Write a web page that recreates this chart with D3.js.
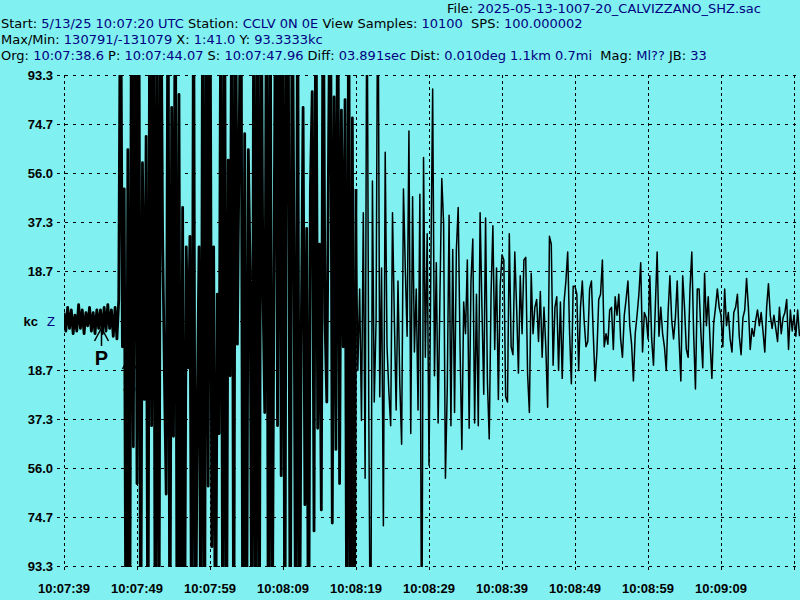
<!DOCTYPE html>
<html><head><meta charset="utf-8">
<script src="https://cdn.jsdelivr.net/npm/d3@7"></script>
<style>
html,body{margin:0;padding:0;background:#80f0f0;}
svg{display:block;}
text{font-family:"DejaVu Sans",sans-serif;font-size:13px;white-space:pre;}
text.ax{font-family:"Liberation Sans",Arial,sans-serif;font-weight:bold;font-size:13px;}
</style></head><body>
<svg id="chart" width="800" height="600"></svg>
<script>
// ---------- data ----------
const headerFile  = [["File: ","k"],["2025-05-13-1007-20_CALVIZZANO_SHZ.sac","n"]];
const headerStart = [["Start: ","k"],["5/13/25 10:07:20 UTC","n"],[" Station: ","k"],["CCLV 0N 0E","n"],[" View Samples: ","k"],["10100","n"],["  SPS: ","k"],["100.000002","n"]];
const headerMax   = [["Max/Min: ","k"],["130791/-131079","n"],[" X: ","k"],["1:41.0","n"],[" Y: ","k"],["93.3333kc","n"]];
const headerOrg   = [["Org: ","k"],["10:07:38.6","n"],[" P: ","k"],["10:07:44.07","n"],[" S: ","k"],["10:07:47.96","n"],[" Diff: ","k"],["03.891sec","n"],[" Dist: ","k"],["0.010deg 1.1km 0.7mi","n"],["  Mag: ","k"],["Ml??","n"],[" JB: ","k"],["33","n"]];

const xTickSeconds = [0,10,20,30,40,50,60,70,80,90,100];
const xTickLabels  = ["10:07:39","10:07:49","10:07:59","10:08:09","10:08:19","10:08:29","10:08:39","10:08:49","10:08:59","10:09:09"];
const yTickValues  = [93.333,74.667,56,37.333,18.667,0,-18.667,-37.333,-56,-74.667,-93.333];
const yTickLabels  = ["93.3","74.7","56.0","37.3","18.7","kc","18.7","37.3","56.0","74.7","93.3"];
const yFullScale   = 93.333;           // kc
const viewSeconds  = 100.82;           // visible window

const phaseNames   = ["P","S"];
const phaseSeconds = [5.07, 8.96];     // after 10:07:39

const sampleStep = 0.25;               // seconds between values
const strongUntil = 40;                // seconds: end of the clipped, strong part
const traceKc = [
  3,-4,5,-3,4,-5,2,-4,6,-3,4,-5,3,-2,5,-4,3,-5,4,-3,
  4,-5,5,-4,6,-3,4,-6,5,-7,8,150,-10,50,-150,65,-150,150,-48,150,
  -62,150,-150,60,-30,70,-150,150,-40,150,-150,150,-150,150,35,-20,-66,150,-150,81,
  -44,150,-150,86,-150,43,-150,28,-18,32,-150,150,-150,-34,28,-150,150,-150,150,-63,
  150,-86,28,-150,10,-43,150,-150,150,-150,61,-21,150,-150,150,-9,70,150,-150,71,
  -150,65,18,-150,150,-150,150,-150,150,12,-35,150,-150,150,-150,12,150,-40,150,-59,
  150,-150,150,92,-150,150,32,-150,150,-150,-5,81,-70,35,-150,50,87,-80,150,-41,
  29,-72,150,1,-31,69,150,-77,85,-49,150,-62,80,-10,84,-150,150,-150,77,-150,
  50,-19,12,-38,41,-60,150,-34,-150,53,-31,0,150,-29,20,-78,64,-10,-27,-40,
  41,1,-34,15,-24,-47,50,20,-6,72,-43,47,-12,12,-34,48,-150,62,-14,33,
  -55,20,88,-21,22,-39,10,54,37,-60,-26,40,-40,27,-35,27,43,-10,-49,7,
  -5,23,-41,15,31,-39,10,-40,41,5,-28,39,-23,-45,10,36,-11,20,-30,13,
  25,23,-29,-31,33,-10,-13,26,5,-20,17,-5,23,24,-20,-35,18,-5,5,8,
  -8,11,-14,5,-10,-33,32,29,-17,5,9,-19,7,-22,7,15,26,-4,-24,13,
  13,10,-19,5,15,0,-10,-8,12,15,-5,-23,-12,8,10,23,-10,-5,-9,4,
  5,-11,9,2,10,-7,-14,2,8,15,-2,-9,-23,-5,2,10,22,-12,3,1,
  -7,17,-7,-17,5,26,-6,5,-5,-10,-19,3,17,0,-7,1,15,-7,-23,17,
  5,-11,-14,12,26,-5,-26,12,12,-5,-18,18,-2,9,-8,-22,-1,5,12,5,
  2,-10,12,-2,3,-7,-12,3,5,10,-6,-13,1,4,16,5,-11,-3,-6,0,
  4,-2,3,-4,-12,5,14,2,-3,2,-3,-8,5,-5,1,3,8,-11,4,-4,
  2,-6,4,-6
];

// ---------- drawing ----------
const W = 800, H = 600;
const plot = {left:64, right:800, top:75, bottom:566};
const colors = {k:"#000000", n:"#000080"};
const svg = d3.select("#chart");

svg.append("rect").attr("width",W).attr("height",H).attr("fill","#80f0f0");

const x = d3.scaleLinear().domain([0, viewSeconds]).range([plot.left, plot.right]);
const y = d3.scaleLinear().domain([-yFullScale, yFullScale]).range([plot.bottom, plot.top]);

// header
function headerLine(parts, px, py){
  const t = svg.append("text").attr("x",px).attr("y",py);
  parts.forEach(p => t.append("tspan").attr("fill", colors[p[1]]).text(p[0]));
}
headerLine(headerFile, 447, 13);
headerLine(headerStart, 1, 28);
headerLine(headerMax, 1, 44);
headerLine(headerOrg, 1, 60);

// grid: horizontal dashed
svg.append("g").selectAll("line").data(yTickValues).join("line")
  .attr("x1", d => d === 0 ? plot.left : plot.left-7).attr("x2", plot.right)
  .attr("y1", d => Math.round(y(d))+0.5).attr("y2", d => Math.round(y(d))+0.5)
  .attr("stroke","#000").attr("stroke-width",1).attr("stroke-dasharray","3,5")
  .attr("shape-rendering","crispEdges");

// grid: vertical dotted
svg.append("g").selectAll("line").data(xTickSeconds).join("line")
  .attr("x1", d => Math.round(x(d))+0.5).attr("x2", d => Math.round(x(d))+0.5)
  .attr("y1", plot.top).attr("y2", plot.bottom+7)
  .attr("stroke","#000").attr("stroke-width",1).attr("stroke-dasharray","3,3")
  .attr("shape-rendering","crispEdges");

// y labels
svg.append("g").selectAll("text").data(yTickValues).join("text")
  .attr("class","ax")
  .attr("x", (d,i) => yTickLabels[i]==="kc" ? 38 : 53)
  .attr("y", d => y(d)+5)
  .attr("text-anchor","end")
  .attr("fill","#000")
  .text((d,i) => yTickLabels[i]);
svg.append("text").attr("class","ax").attr("x",47).attr("y",y(0)+5).attr("fill","#000080")
  .style("font-weight","normal").text("Z");

// x labels
svg.append("g").selectAll("text").data(xTickLabels).join("text")
  .attr("class","ax")
  .attr("x", (d,i) => x(xTickSeconds[i]))
  .attr("y", 593)
  .attr("text-anchor","middle")
  .attr("fill","#000")
  .text(d => d);

// trace
svg.append("clipPath").attr("id","clip").append("rect")
  .attr("x",plot.left).attr("y",plot.top)
  .attr("width",plot.right-plot.left).attr("height",plot.bottom-plot.top+1);
const line = d3.line().x(d => x(d[0])).y(d => y(d[1]));
const pts = traceKc.map((v,i) => [i*sampleStep, v]);
const strongPts = pts.filter(p => p[0] <= strongUntil);
const weakPts = pts.filter(p => p[0] >= strongUntil);
svg.append("path").datum(strongPts)
  .attr("clip-path","url(#clip)")
  .attr("d", line).attr("fill","none")
  .attr("stroke","#000").attr("stroke-width",2.8).attr("stroke-linejoin","round");
svg.append("path").datum(weakPts)
  .attr("clip-path","url(#clip)")
  .attr("d", line).attr("fill","none")
  .attr("stroke","#000").attr("stroke-width",1.5).attr("stroke-linejoin","round");

// phase markers
const markerTop = [328, 356];
phaseNames.forEach((nm,i) => {
  const cx = Math.round(x(phaseSeconds[i]))+0.5, ty = markerTop[i];
  const g = svg.append("g").attr("stroke","#000").attr("stroke-width",1.5).attr("fill","none");
  g.append("line").attr("x1",cx).attr("y1",ty).attr("x2",cx-7).attr("y2",ty+13);
  g.append("line").attr("x1",cx).attr("y1",ty).attr("x2",cx+7).attr("y2",ty+13);
  g.append("line").attr("x1",cx).attr("y1",ty).attr("x2",cx).attr("y2",ty+18);
  svg.append("text").attr("x",cx).attr("y",ty+37).attr("text-anchor","middle")
    .style("font-family","'Liberation Sans',Arial,sans-serif")
    .style("font-size","20px").style("font-weight","bold").attr("fill","#000").text(nm);
});
</script></body></html>
